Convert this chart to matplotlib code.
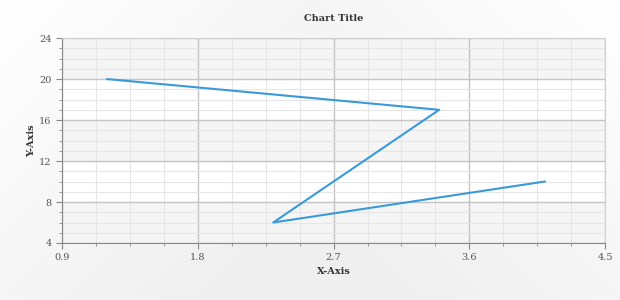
import matplotlib
matplotlib.use("Agg")
import matplotlib.pyplot as plt
import numpy as np
from matplotlib.ticker import MultipleLocator

x_values = [1.2, 3.4, 2.3, 4.1]
y_values = [20, 17, 6, 10]
x_ticks = [0.9, 1.8, 2.7, 3.6, 4.5]
y_ticks = [4, 8, 12, 16, 20, 24]

plt.rcParams["font.family"] = ["DejaVu Serif"]

fig = plt.figure(figsize=(6.2, 3.0), dpi=100)

# soft gradient background for the whole chart
bg = fig.add_axes([0, 0, 1, 1], zorder=-10)
grad = np.linspace(0, 1, 256)
gx, gy = np.meshgrid(grad, grad)
shade = 1.0 - 0.06 * np.clip(0.6 * gy + 0.6 * (1 - np.abs(gx - 0.5) * 2), 0, 1)
bg.imshow(np.dstack([shade, shade, shade]), aspect="auto", extent=[0, 1, 0, 1], origin="upper")
bg.set_axis_off()

ax = fig.add_axes([0.1, 0.19, 0.876, 0.683])
ax.set_facecolor("white")
ax.set_xlim(0.9, 4.5)
ax.set_ylim(4, 24)

# alternating bands between major y ticks
for i, (lo, hi) in enumerate(zip(y_ticks[:-1], y_ticks[1:])):
    if i % 2 == 0:
        ax.axhspan(lo, hi, color="#f5f5f5", zorder=0)

ax.set_xticks(x_ticks)
ax.set_xticklabels([f"{t:.1f}" for t in x_ticks])
ax.set_yticks(y_ticks)
ax.xaxis.set_minor_locator(MultipleLocator(0.225))
ax.yaxis.set_minor_locator(MultipleLocator(1))

ax.grid(which="major", color="#c4c4c4", linewidth=1.0, zorder=1)
ax.grid(which="minor", color="#e6e6e6", linewidth=0.8, zorder=1)
ax.set_axisbelow(True)

for side in ["top", "right"]:
    ax.spines[side].set_color("#d0d0d0")
for side in ["left", "bottom"]:
    ax.spines[side].set_color("#888888")

ax.tick_params(which="major", length=4, color="#888888", labelsize=7, labelcolor="#555555")
ax.tick_params(which="minor", length=2, color="#888888")

ax.plot(x_values, y_values, color="#3a9ad9", linewidth=1.5, zorder=3)

ax.set_title("Chart Title", fontsize=7, fontweight="bold", color="#333333", pad=12)
ax.set_xlabel("X-Axis", fontsize=7, fontweight="bold", color="#333333", labelpad=3)
ax.set_ylabel("Y-Axis", fontsize=7, fontweight="bold", color="#333333", labelpad=2)

fig.savefig("out.png", dpi=100)
